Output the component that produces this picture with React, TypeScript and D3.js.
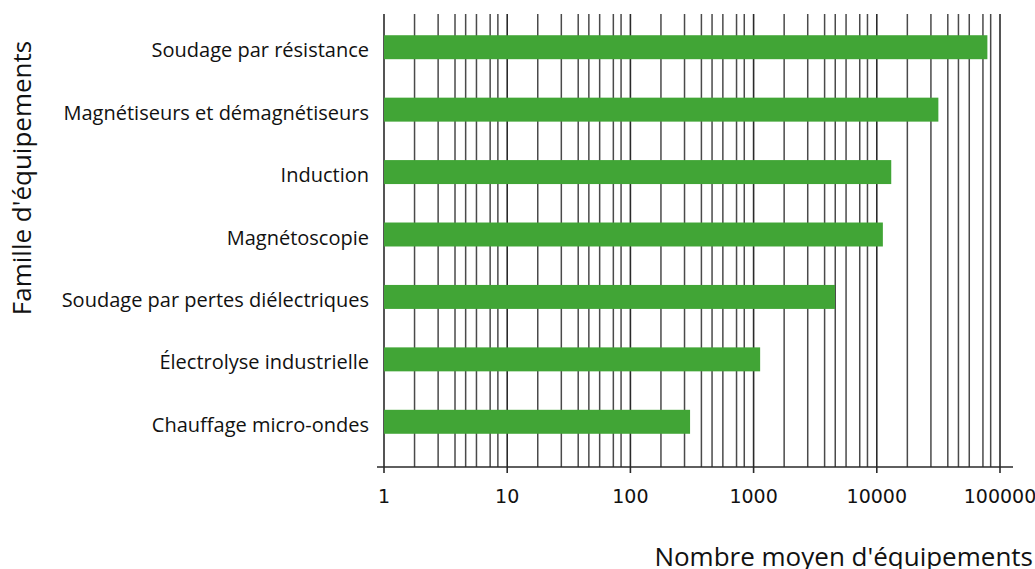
import React from "react";
import * as d3 from "d3";

// categories, top to bottom
const categories = [
  "Soudage par résistance",
  "Magnétiseurs et démagnétiseurs",
  "Induction",
  "Magnétoscopie",
  "Soudage par pertes diélectriques",
  "Électrolyse industrielle",
  "Chauffage micro-ondes",
];

// average number of devices
const values = [79000, 31600, 13100, 11200, 4580, 1130, 305];

const majorTicks = [1, 10, 100, 1000, 10000, 100000];
// minor grid lines inside each decade, as drawn in the source picture
const minorMultipliers = [1.77, 2.75, 3.77, 4.6, 5.63, 7.27, 8.4];

const width = 1035;
const height = 569;

const App: React.FC = () => {
  const x = d3.scaleLog().domain([1, 100000]).range([384, 1000]);
  const y = d3
    .scaleBand<string>()
    .domain(categories)
    .range([16, 453])
    .paddingInner(0.616)
    .paddingOuter(0.308);

  const gridTop = 14;
  const axisY = 467;

  const minorTicks = majorTicks
    .slice(0, -1)
    .flatMap((d) => minorMultipliers.map((m) => d * m));

  return (
    <svg
      width={width}
      height={height}
      style={{ position: "absolute", left: 0, top: 0, background: "#fff" }}
    >
      {/* grid */}
      <g>
        {minorTicks.map((t, i) => (
          <line
            key={"m" + i}
            x1={x(t)}
            x2={x(t)}
            y1={gridTop}
            y2={axisY}
            stroke="#4a4a4a"
            strokeWidth={1.5}
          />
        ))}
        {majorTicks.map((t) => (
          <line
            key={"M" + t}
            x1={x(t)}
            x2={x(t)}
            y1={gridTop}
            y2={axisY + 6}
            stroke="#2a2a2a"
            strokeWidth={1.6}
          />
        ))}
      </g>

      {/* bars */}
      <g>
        {categories.map((c, i) => (
          <rect
            key={c}
            x={x(1)}
            y={y(c)}
            width={x(values[i]) - x(1)}
            height={y.bandwidth()}
            fill="#41a536"
          />
        ))}
      </g>

      {/* x axis */}
      <line x1={377} x2={1013} y1={axisY} y2={axisY} stroke="#2a2a2a" strokeWidth={1.6} />
      <g fontFamily="DejaVu Sans" fontSize={19} fill="#111" textAnchor="middle">
        {majorTicks.map((t) => (
          <text key={t} x={x(t)} y={503}>
            {d3.format("d")(t)}
          </text>
        ))}
      </g>

      {/* category labels */}
      <g fontFamily="Open Sans" fontSize={20} fill="#111" textAnchor="end">
        {categories.map((c) => (
          <text key={c} x={369} y={(y(c) ?? 0) + y.bandwidth() / 2 + 10}>
            {c}
          </text>
        ))}
      </g>

      {/* axis titles */}
      <text
        x={1033}
        y={566}
        textAnchor="end"
        fontFamily="Open Sans"
        fontSize={26}
        fill="#111"
      >
        Nombre moyen d'équipements
      </text>
      <text
        transform="translate(31,178) rotate(-90)"
        textAnchor="middle"
        fontFamily="Open Sans"
        fontSize={26}
        fill="#111"
      >
        Famille d'équipements
      </text>
    </svg>
  );
};

export default App;
